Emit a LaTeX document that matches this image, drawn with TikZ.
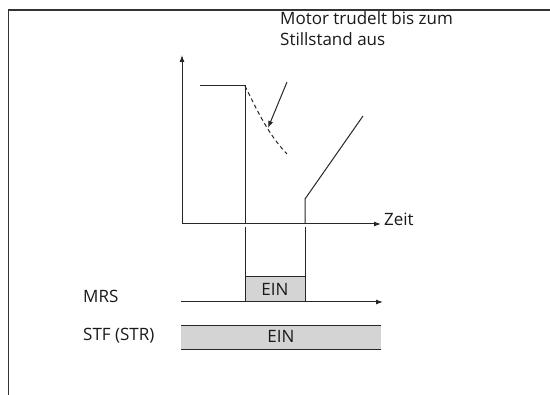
\documentclass[tikz,border=0pt]{standalone}
\usepackage{fontspec}
\setmainfont{Open Sans}
\usetikzlibrary{arrows.meta}
\begin{document}
\begin{tikzpicture}[x=1pt,y=-1pt,
  line/.style={line width=1pt, draw=black!85},
  arr/.style={line, -{Latex[length=7pt,width=5pt]}},
  lbl/.style={anchor=base west, inner sep=0pt, font=\fontsize{17}{20}\selectfont, text=black!90},
  clbl/.style={anchor=base, inner sep=0pt, font=\fontsize{17}{20}\selectfont, text=black!90},
  gbox/.style={fill=black!17}]
\useasboundingbox (0,0) rectangle (550,395);
% frame
\draw[line width=1.4pt, draw=black!80] (550,10) -- (8.5,10) -- (8.5,395);
% axes
\coordinate (O) at (182,224);
\coordinate (Ytop) at (182,55);
\coordinate (Xend) at (381,224);
\draw[arr] (O) -- (Ytop);
\draw[arr] (O) -- (Xend);
\node[lbl] (zeit) at (384,226) {Zeit};
% speed curve
\coordinate (s0) at (200,86);
\coordinate (s1) at (245,86);
\coordinate (s2) at (245,224);
\draw[line] (s0) -- (s1) -- (s2);
\coordinate (d1) at (287,154);
\draw[line, dash pattern=on 4pt off 3pt] (s1) .. controls (258,112) and (268,134) .. (d1);
\coordinate (r0) at (305,224);
\coordinate (r1) at (305,199);
\coordinate (r2) at (363,116);
\draw[line] (r0) -- (r1) -- (r2);
% annotation
\node[lbl] (ann1) at (280,25) {Motor trudelt bis zum};
\node[lbl] (ann2) at (280,46) {Stillstand aus};
\coordinate (a0) at (287,82);
\coordinate (a1) at (268,128);
\draw[arr] (a0) -- (a1);
% dividing lines
\coordinate (v1) at (245,227);
\coordinate (v2) at (305,227);
% MRS
\node[lbl] (mrs) at (83,303) {MRS};
\draw[line, gbox] (245,302) rectangle (305,277);
\node[clbl] (ein1) at (275,296) {EIN};
\coordinate (v1b) at (245,277);
\coordinate (v2b) at (305,277);
\draw[line] (v1) -- (v1b);
\draw[line] (v2) -- (v2b);
\coordinate (m0) at (181,302);
\coordinate (m1) at (383,302);
\draw[arr] (m0) -- (m1);
% STF
\node[lbl] (stf) at (83,341) {STF (STR)};
\fill[black!17] (181,326) rectangle (381,350);
\draw[line] (181,326) -- (381,326);
\draw[line] (181,350) -- (381,350);
\node[clbl] (ein2) at (281,343) {EIN};
\end{tikzpicture}
\end{document}
